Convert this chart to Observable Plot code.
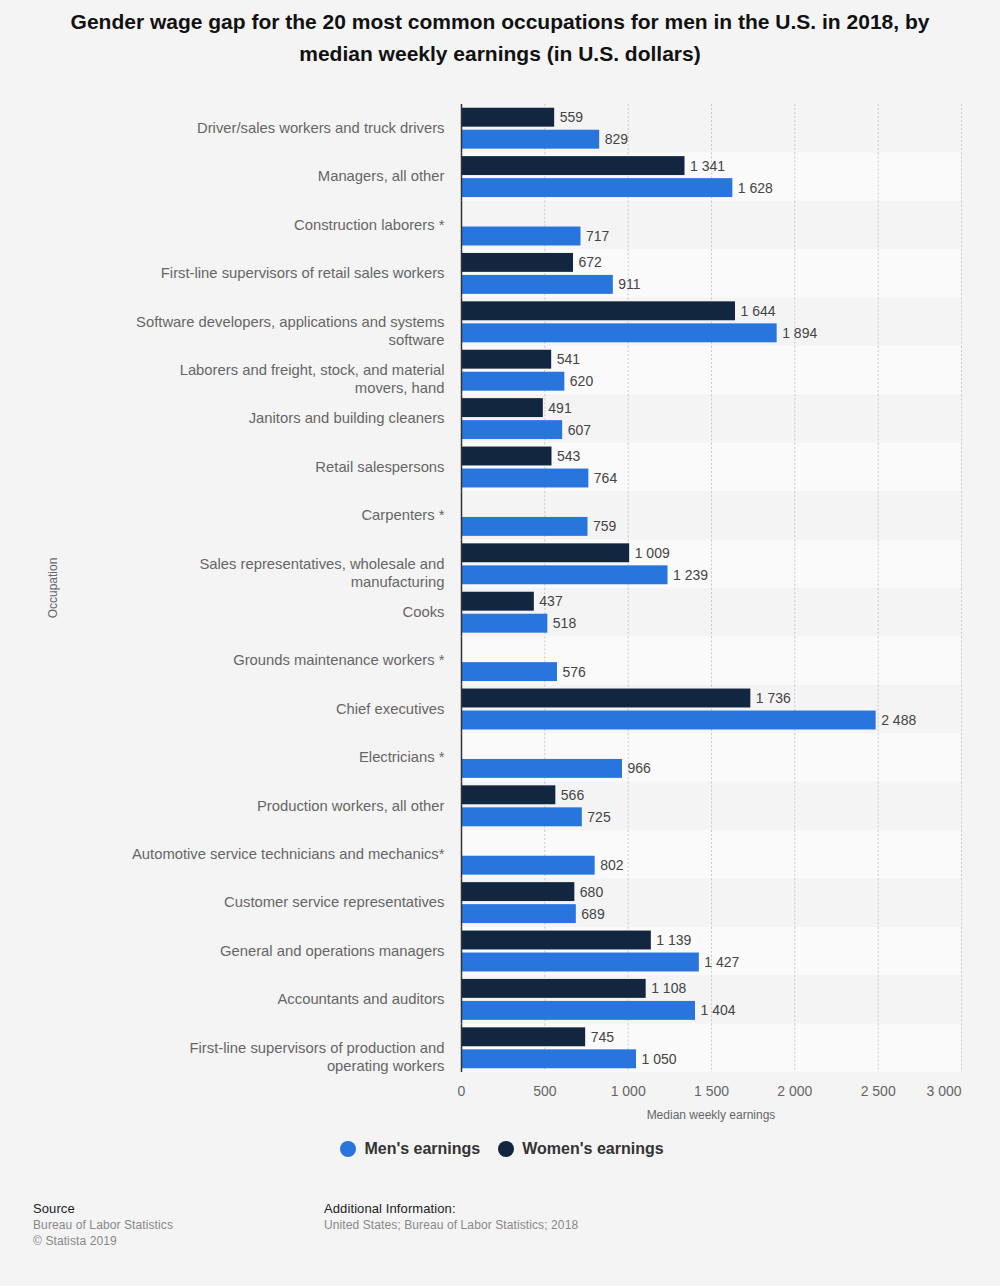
<!DOCTYPE html>
<html>
<head>
<meta charset="utf-8">
<script src="https://cdn.jsdelivr.net/npm/d3@7"></script>
<script src="https://cdn.jsdelivr.net/npm/@observablehq/plot@0.6"></script>
<style>
  html, body { margin: 0; padding: 0; background: #f4f4f4; }
  body { width: 1000px; height: 1286px; position: relative; font-family: "Liberation Sans", Arial, sans-serif; overflow: hidden; }
  #title { position: absolute; top: 6px; left: 20px; width: 960px; text-align: center; font-weight: bold; font-size: 21px; line-height: 32px; color: #111; }
  #chart { position: absolute; top: 80px; left: 0; }
  #ylabel { position: absolute; left: 53px; top: 588px; transform: translate(-50%, -50%) rotate(-90deg); font-size: 12px; color: #666; white-space: nowrap; }
  #xlabel { position: absolute; left: 711px; top: 1108px; transform: translateX(-50%); font-size: 12px; color: #666; white-space: nowrap; }
  #legend { position: absolute; top: 1140px; left: 2px; width: 1000px; display: flex; justify-content: center; gap: 18px; font-weight: bold; font-size: 16px; color: #333; }
  .item { display: flex; align-items: center; gap: 8px; }
  .dot { width: 16px; height: 16px; border-radius: 50%; display: inline-block; }
  .foot { position: absolute; top: 1201px; font-size: 12px; line-height: 16px; color: #888; letter-spacing: 0.1px; }
  .foot b { font-weight: normal; color: #222; font-size: 13px; }
</style>
</head>
<body>
<div id="title">Gender wage gap for the 20 most common occupations for men in the U.S. in 2018, by<br>median weekly earnings (in U.S. dollars)</div>
<div id="chart"></div>
<div id="ylabel">Occupation</div>
<div id="xlabel">Median weekly earnings</div>
<div id="legend"></div>
<div class="foot" style="left:33px"><b>Source</b><br>Bureau of Labor Statistics<br>© Statista 2019</div>
<div class="foot" style="left:324px"><b>Additional Information:</b><br>United States; Bureau of Labor Statistics; 2018</div>
<script>
const occupations = [
  "Driver/sales workers and truck drivers",
  "Managers, all other",
  "Construction laborers *",
  "First-line supervisors of retail sales workers",
  "Software developers, applications and systems\nsoftware",
  "Laborers and freight, stock, and material\nmovers, hand",
  "Janitors and building cleaners",
  "Retail salespersons",
  "Carpenters *",
  "Sales representatives, wholesale and\nmanufacturing",
  "Cooks",
  "Grounds maintenance workers *",
  "Chief executives",
  "Electricians *",
  "Production workers, all other",
  "Automotive service technicians and mechanics*",
  "Customer service representatives",
  "General and operations managers",
  "Accountants and auditors",
  "First-line supervisors of production and\noperating workers"
];
const mensEarnings = [829, 1628, 717, 911, 1894, 620, 607, 764, 759, 1239, 518, 576, 2488, 966, 725, 802, 689, 1427, 1404, 1050];
const womensEarnings = [559, 1341, null, 672, 1644, 541, 491, 543, null, 1009, 437, null, 1736, null, 566, null, 680, 1139, 1108, 745];
const seriesNames = ["Men's earnings", "Women's earnings"];
const seriesColors = ["#2876dd", "#12263f"];
const xTicks = [0, 500, 1000, 1500, 2000, 2500, 3000];

const rows = [];
occupations.forEach((o, i) => {
  if (womensEarnings[i] != null) rows.push({occupation: o, series: seriesNames[1], value: womensEarnings[i]});
  if (mensEarnings[i] != null) rows.push({occupation: o, series: seriesNames[0], value: mensEarnings[i]});
});
const stripes = occupations.filter((o, i) => i % 2 === 1);
const fmt = v => d3.format(",")(v).replace(/,/g, " ");

const chart = Plot.plot({
  width: 1000,
  height: 1052,
  marginTop: 24,
  marginBottom: 60,
  marginLeft: 461,
  marginRight: 39,
  style: {background: "transparent", fontFamily: "Liberation Sans, Arial, sans-serif"},
  x: {domain: [0, 3000], axis: null},
  y: {domain: [seriesNames[1], seriesNames[0]], paddingInner: 0.14, paddingOuter: 0.17, round: false, axis: null},
  fy: {domain: occupations, paddingInner: 0, paddingOuter: 0, round: false, axis: null, label: null},
  color: {domain: seriesNames, range: seriesColors},
  marks: [
    Plot.rect(stripes, {fy: d => d, fill: "#fafafa"}),
    Plot.gridX({ticks: xTicks.slice(1), stroke: "#c8c8c8", strokeOpacity: 1, strokeDasharray: "2,2"}),
    Plot.barX(rows, {fy: "occupation", y: "series", x: "value", fill: "series"}),
    Plot.ruleX([0], {stroke: "#333", strokeWidth: 1.5}),
    Plot.text(rows, {fy: "occupation", y: "series", x: "value", text: d => fmt(d.value), textAnchor: "start", dx: 5, fontSize: 14, fill: "#444"}),
    Plot.axisFy({anchor: "left", tickSize: 0, tickPadding: 17, fontSize: 14.8, lineHeight: 1.22, color: "#666", label: null, lineAnchor: "top", dy: -8.5}),
    Plot.axisX({ticks: xTicks.slice(0, -1), tickFormat: fmt, tickSize: 0, tickPadding: 14, fontSize: 14, color: "#666", label: null}),
    Plot.axisX({ticks: xTicks.slice(-1), tickFormat: fmt, tickSize: 0, tickPadding: 14, fontSize: 14, color: "#666", label: null, textAnchor: "end"})
  ]
});
document.getElementById("chart").appendChild(chart);

const legend = document.getElementById("legend");
seriesNames.forEach((s, i) => {
  const it = document.createElement("div");
  it.className = "item";
  const dot = document.createElement("span");
  dot.className = "dot";
  dot.style.background = seriesColors[i];
  it.appendChild(dot);
  it.appendChild(document.createTextNode(s));
  legend.appendChild(it);
});
</script>
</body>
</html>
